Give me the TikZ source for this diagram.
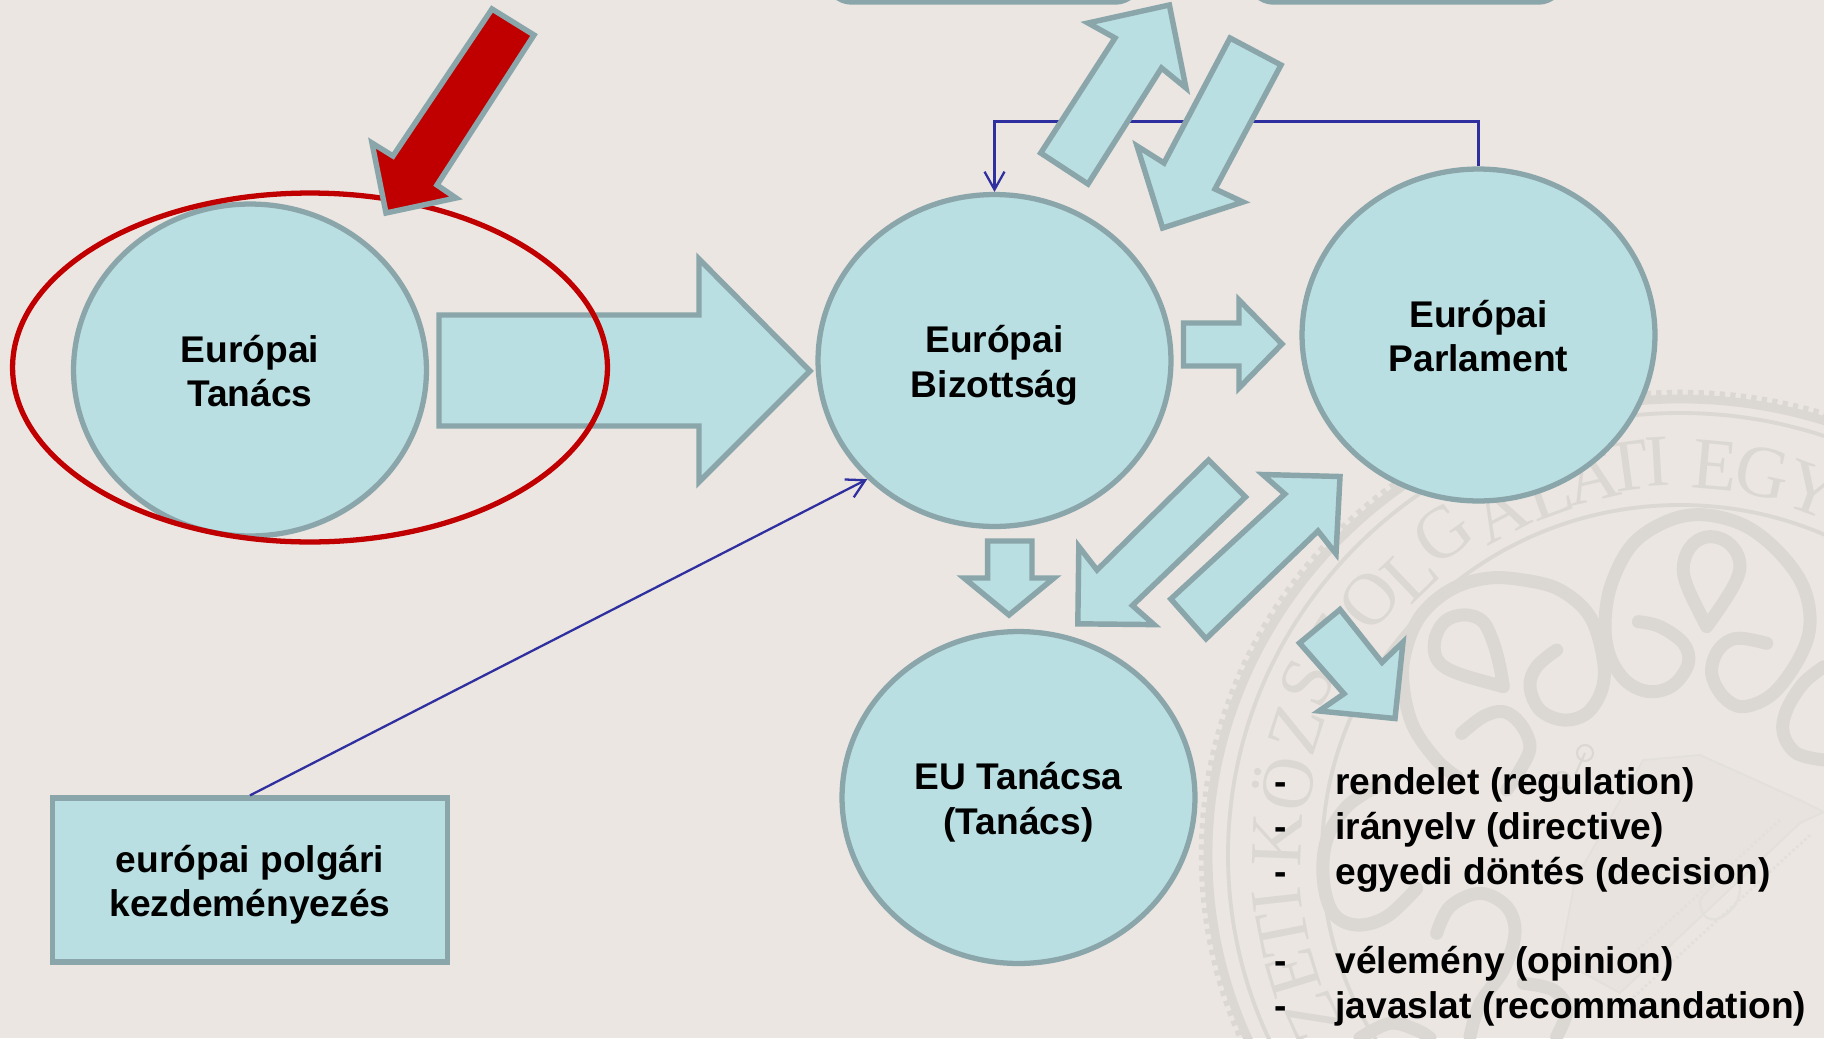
\documentclass[tikz,border=0pt]{standalone}
\usepackage{fontspec}
\setmainfont{Liberation Sans}
\newfontfamily\sealfont{Liberation Serif}
\usetikzlibrary{arrows.meta,shapes.geometric}
\definecolor{bgc}{HTML}{EBE6E2}
\definecolor{cfill}{HTML}{B9DFE3}
\definecolor{cedge}{HTML}{8AA6AA}
\definecolor{linec}{HTML}{2F2F9F}
\definecolor{redc}{HTML}{C00000}
\definecolor{sealc}{HTML}{DBD7D2}
\definecolor{crownc}{HTML}{E3DFDB}
\newcommand\twolines[2]{\rule{0pt}{1.09em}#1\\#2\rule[-.31em]{0pt}{0pt}}
\tikzset{
  labeltext/.style={font=\fontsize{21.15pt}{25.4pt}\selectfont\bfseries,text=black,align=center},
  bubble/.style={ellipse,draw=cedge,fill=cfill,line width=3pt,minimum width=7.06cm,minimum height=6.64cm,inner sep=0pt,labeltext},
  boxnode/.style={rectangle,draw=cedge,fill=cfill,line width=3pt,minimum width=7.9cm,minimum height=3.28cm,inner sep=0pt,labeltext},
  blockarrow/.style={draw=cedge,fill=cfill,line width=3.1pt,miter limit=10},
  redarrow/.style={draw=cedge,fill=redc,line width=3.1pt,miter limit=10},
  thinline/.style={draw=linec,line width=1.3pt},
  openhead/.style={-{Straight Barb[length=10.2pt,width=11.4pt,line width=1.3pt]}},
  listtext/.style={font=\fontsize{21.15pt}{25.4pt}\selectfont\bfseries,text=black,anchor=base west,inner sep=0pt},
  sealline/.style={draw=sealc,line cap=round,line join=round,line width=7.4pt},
  sealring/.style={draw=sealc},
  sealletter/.style={font=\fontsize{42pt}{42pt}\sealfont,text=sealc,inner sep=0pt}
}
\begin{document}
\begin{tikzpicture}[x=0.02cm,y=-0.02cm]
\useasboundingbox (0,0) rectangle (1824,1038);
\clip (0,0) rectangle (1824,1038);
\fill[bgc] (0,0) rectangle (1824,1038);
% --- seal watermark
\draw[sealring,line width=5pt] (1680,855) ellipse [x radius=472,y radius=456];
\draw[sealring,line width=6pt,dash pattern=on 3pt off 3pt] (1680,855) ellipse [x radius=476,y radius=460];
\draw[sealring,line width=2.2pt] (1680,855) ellipse [x radius=452,y radius=442];
\draw[sealring,line width=2.2pt] (1680,855) ellipse [x radius=358,y radius=350];
\foreach \ch/\px/\py in {Z/1313/1017,E/1293/973,T/1283/933,I/1277/900,K/1277/840,Ö/1283/783,Z/1297/730,S/1307/683,Z/1335/640,O/1370/600,L/1410/573,G/1443/533,A/1500/513,L/1548/492,A/1592/477,T/1627/467,I/1657/462,E/1715/465,G/1763/473,Y/1813/490}{
  \pgfmathsetmacro\ang{atan2(\px-1680,855-\py)}
  \node[sealletter,rotate=-\ang] at (\px,\py) {\ch};
}
\begin{scope}[shift={(1340,370)},x=0.00667cm,y=-0.00667cm]
\draw[sealline] plot[smooth,tension=0.6] coordinates {(895,755)(960,770)(1030,820)(1045,880)(1000,945)(930,965)(860,935)(810,860)(795,760)(815,640)(880,520)(990,450)(1100,435)(1220,470)(1320,550)(1390,650)(1410,760)(1380,860)(1300,970)(1210,1010)(1150,980)(1115,910)(1135,840)(1190,805)(1280,820)};
\draw[sealline] (1100,770) .. controls (1060,690) and (1025,630) .. (1030,590) .. controls (1035,530) and (1075,500) .. (1110,500) .. controls (1160,500) and (1200,540) .. (1200,590) .. controls (1200,630) and (1150,700) .. cycle;
\draw[sealline] plot[smooth,tension=0.6] coordinates {(650,840)(590,890)(570,950)(600,1020)(670,1050)(740,1030)(785,960)(790,870)(750,740)(660,660)(550,630)(440,625)(330,660)(240,740)(195,850)(190,950)(220,1070)(290,1170)(350,1220)};
\draw[sealline] (490,950) .. controls (400,925) and (330,910) .. (300,880) .. controls (270,850) and (280,780) .. (320,750) .. controls (360,725) and (420,730) .. (440,770) .. controls (465,820) and (480,880) .. cycle;
\draw[sealline] plot[smooth,tension=0.6] coordinates {(365,1090)(430,1040)(490,1025)(540,1060)(570,1130)(540,1200)(500,1260)};
\draw[sealline] plot[smooth,tension=0.6] coordinates {(1452,890)(1390,940)(1340,1020)(1330,1090)(1370,1150)(1452,1170)};
\end{scope}
\begin{scope}[shift={(1190,640)},x=0.00667cm,y=-0.00667cm]
\draw[sealline] plot[smooth,tension=0.6] coordinates {(560,440)(470,500)(410,600)(400,720)(430,820)(500,855)(590,830)(680,745)};
\draw[sealline] plot[smooth,tension=0.6] coordinates {(740,880)(780,800)(870,760)(950,800)(975,880)(940,990)(870,1090)(840,1190)};
\draw[sealline] plot[smooth,tension=0.6] coordinates {(1000,1030)(1090,1050)(1130,1110)(1100,1190)};
\draw[sealline] plot[smooth,tension=0.6] coordinates {(510,1194)(600,1150)(680,1170)(720,1194)};
\end{scope}
% crown
\draw[crownc,line width=1pt,fill=bgc!60!crownc] (1643,760) -- (1700,755) -- (1800,800) -- (1824,812) -- (1800,823) -- (1620,993) -- (1560,960) -- (1575,880) -- cycle;
\draw[crownc,line width=1.6pt,dash pattern=on 1.5pt off 1.5pt] (1810,835) -- (1625,1005);
\draw[crownc,line width=1.6pt,dash pattern=on 1.5pt off 1.5pt] (1780,820) -- (1610,975);
\draw[crownc,line width=1.4pt] (1700,900) .. controls (1730,860) and (1750,880) .. (1735,905) .. controls (1720,925) and (1700,925) .. cycle;
\draw[sealc,line width=1.2pt] (1585,753) circle (8) (1562,780) circle (8) (1585,753) -- (1575,775);
% --- nodes
\node[bubble] (tanacs) at (250,370) {\twolines{Európai}{Tanács}};
\node[bubble] (biz) at (994.5,360.5) {\twolines{Európai}{Bizottság}};
\node[bubble] (parl) at (1478.5,335) {\twolines{Európai}{Parlament}};
\node[bubble] (eu) at (1018.5,797.5) {\twolines{EU Tanácsa}{(Tanács)}};
\node[boxnode] (kez) at (250,880) {\twolines{európai polgári}{kezdeményezés}};
% --- thin connectors
\coordinate (elbow) at (1236,121.5);
\draw[thinline,openhead] (parl.north) |- (elbow) -| (biz.north);
\draw[thinline,openhead] (kez.north) -- (biz.223);
% --- boxes cut by the top edge
\draw[blockarrow,rounded corners=14pt] (827,-60) rectangle (1140,2);
\draw[blockarrow,rounded corners=14pt] (1249,-60) rectangle (1563,2);
% --- block arrows
\draw[blockarrow] (439,315) -- (699,315) -- (699,259) -- (810,371) -- (699,482) -- (699,426) -- (439,426) -- cycle;
\draw[blockarrow] (1183.5,323) -- (1239,323) -- (1239,300) -- (1282,344) -- (1239,388) -- (1239,366) -- (1183.5,366) -- cycle;
\draw[blockarrow] (987.6,541) -- (1032,541) -- (1032,578) -- (1054,578) -- (1009,615) -- (964,578) -- (987.6,578) -- cycle;
\draw[blockarrow] (1169.4,5) -- (1186,88) -- (1161.5,68) -- (1088,184) -- (1040.7,153) -- (1115,38) -- (1088,23) -- cycle;
\draw[blockarrow] (1230,38) -- (1281,65) -- (1215,189) -- (1243,202) -- (1162.6,228) -- (1137,146) -- (1164,163) -- cycle;
\draw[blockarrow] (1208.6,460) -- (1245.4,497) -- (1132.4,605.5) -- (1154,624.6) -- (1077.8,623.8) -- (1078.8,546.5) -- (1097,570) -- cycle;
\draw[blockarrow] (1340,476.5) -- (1336,553.8) -- (1318,531) -- (1206,638.8) -- (1170.8,599) -- (1284.8,494) -- (1262.7,474.5) -- cycle;
\draw[blockarrow] (1340,609.5) -- (1299.5,643) -- (1344,693.7) -- (1319,711) -- (1395,718.5) -- (1403,642) -- (1382,662.4) -- cycle;
% --- red highlight
\node[ellipse,draw=redc,line width=3pt,minimum width=11.9cm,minimum height=6.98cm,inner sep=0pt] (ring) at (310,367.5) {};
\draw[redarrow] (492,9) -- (534,35) -- (437,185) -- (456,198) -- (386,213) -- (372,143) -- (393,156) -- cycle;
% --- list
\node[listtext] (d1) at (1274,794.4) {-};
\node[listtext] (l1) at (1335,794.4) {rendelet (regulation)};
\node[listtext] (d2) at (1274,839) {-};
\node[listtext] (l2) at (1335,839) {irányelv (directive)};
\node[listtext] (d3) at (1274,884.6) {-};
\node[listtext] (l3) at (1335,884.6) {egyedi döntés (decision)};
\node[listtext] (d4) at (1274,973.4) {-};
\node[listtext] (l4) at (1335,973.4) {vélemény (opinion)};
\node[listtext] (d5) at (1274,1018) {-};
\node[listtext] (l5) at (1335,1018) {javaslat (recommandation)};
\end{tikzpicture}
\end{document}
